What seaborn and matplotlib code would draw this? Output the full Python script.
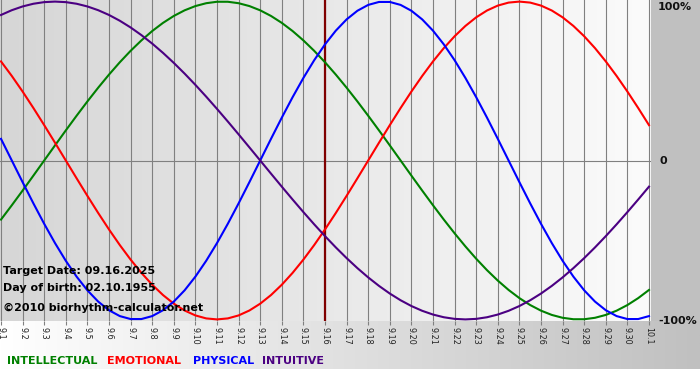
import numpy as np
import pandas as pd
import matplotlib
matplotlib.use("Agg")
import matplotlib.pyplot as plt
from matplotlib.colors import LinearSegmentedColormap
from matplotlib.patches import Rectangle
import seaborn as sns

# ---------------- data ----------------
day_labels = ['9.1', '9.2', '9.3', '9.4', '9.5', '9.6', '9.7', '9.8', '9.9', '9.10',
              '9.11', '9.12', '9.13', '9.14', '9.15', '9.16', '9.17', '9.18', '9.19', '9.20',
              '9.21', '9.22', '9.23', '9.24', '9.25', '9.26', '9.27', '9.28', '9.29', '9.30',
              '10.1']
# values read every half day, from 9.1 to 10.1
intellectual = [-0.3717, -0.2817, -0.1893, -0.0951, 0.0, 0.0951, 0.1893, 0.2817, 0.3717, 0.4582,
                0.5406, 0.6182, 0.6901, 0.7557, 0.8146, 0.8660, 0.9096, 0.9450, 0.9718, 0.9898,
                0.9989, 0.9989, 0.9898, 0.9718, 0.9450, 0.9096, 0.8660, 0.8146, 0.7557, 0.6901,
                0.6182, 0.5406, 0.4582, 0.3717, 0.2817, 0.1893, 0.0951, 0.0, -0.0951, -0.1893,
                -0.2817, -0.3717, -0.4582, -0.5406, -0.6182, -0.6901, -0.7557, -0.8146, -0.8660, -0.9096,
                -0.9450, -0.9718, -0.9898, -0.9989, -0.9989, -0.9898, -0.9718, -0.9450, -0.9096, -0.8660,
                -0.8146]
emotional = [0.6235, 0.5320, 0.4339, 0.3303, 0.2225, 0.1120, 0.0, -0.1120, -0.2225, -0.3303,
             -0.4339, -0.5320, -0.6235, -0.7071, -0.7818, -0.8467, -0.9010, -0.9439, -0.9749, -0.9937,
             -1.0, -0.9937, -0.9749, -0.9439, -0.9010, -0.8467, -0.7818, -0.7071, -0.6235, -0.5320,
             -0.4339, -0.3303, -0.2225, -0.1120, 0.0, 0.1120, 0.2225, 0.3303, 0.4339, 0.5320,
             0.6235, 0.7071, 0.7818, 0.8467, 0.9010, 0.9439, 0.9749, 0.9937, 1.0, 0.9937,
             0.9749, 0.9439, 0.9010, 0.8467, 0.7818, 0.7071, 0.6235, 0.5320, 0.4339, 0.3303,
             0.2225]
physical = [0.1362, 0.0, -0.1362, -0.2698, -0.3984, -0.5196, -0.6311, -0.7308, -0.8170, -0.8879,
            -0.9423, -0.9791, -0.9977, -0.9977, -0.9791, -0.9423, -0.8879, -0.8170, -0.7308, -0.6311,
            -0.5196, -0.3984, -0.2698, -0.1362, 0.0, 0.1362, 0.2698, 0.3984, 0.5196, 0.6311,
            0.7308, 0.8170, 0.8879, 0.9423, 0.9791, 0.9977, 0.9977, 0.9791, 0.9423, 0.8879,
            0.8170, 0.7308, 0.6311, 0.5196, 0.3984, 0.2698, 0.1362, 0.0, -0.1362, -0.2698,
            -0.3984, -0.5196, -0.6311, -0.7308, -0.8170, -0.8879, -0.9423, -0.9791, -0.9977, -0.9977,
            -0.9791]
intuitive = [0.9158, 0.9458, 0.9694, 0.9864, 0.9966, 1.0, 0.9966, 0.9864, 0.9694, 0.9458,
             0.9158, 0.8795, 0.8372, 0.7891, 0.7357, 0.6773, 0.6142, 0.5469, 0.4759, 0.4017,
             0.3247, 0.2455, 0.1646, 0.0826, 0.0, -0.0826, -0.1646, -0.2455, -0.3247, -0.4017,
             -0.4759, -0.5469, -0.6142, -0.6773, -0.7357, -0.7891, -0.8372, -0.8795, -0.9158, -0.9458,
             -0.9694, -0.9864, -0.9966, -1.0, -0.9966, -0.9864, -0.9694, -0.9458, -0.9158, -0.8795,
             -0.8372, -0.7891, -0.7357, -0.6773, -0.6142, -0.5469, -0.4759, -0.4017, -0.3247, -0.2455,
             -0.1646]
series_names = ['INTELLECTUAL', 'EMOTIONAL', 'PHYSICAL', 'INTUITIVE']
series_colors = ['#008000', '#ff0000', '#0000ff', '#4b0082']
target_label = '9.16'
info_lines = ['Target Date: 09.16.2025', 'Day of birth: 02.10.1955', '\u00a92010 biorhythm-calculator.net']
pct_labels = ['100%', '0', '-100%']

# ---------------- figure ----------------
W, H = 700, 380
fig = plt.figure(figsize=(7, 3.8), dpi=100)

# background layer (pixel coordinates)
bg = fig.add_axes([0, 0, 1, 1], zorder=0)
grad = np.linspace(0, 1, 256).reshape(1, -1)
bg.imshow(grad, extent=[0, 651, 321, 0], aspect='auto',
          cmap=LinearSegmentedColormap.from_list('plotbg', ['#d6d6d6', '#fbfbfb']))
bg.imshow(grad, extent=[0, 700, 369, 321], aspect='auto',
          cmap=LinearSegmentedColormap.from_list('bandbg', ['#ffffff', '#c0c0c0']))
bg.add_patch(Rectangle((651, 0), 49, 321, color='#c0c0c0', lw=0))
bg.set_xlim(0, W)
bg.set_ylim(H, 0)
bg.axis('off')

# main chart
ax = fig.add_axes([0, 1 - 321 / H, 651 / W, 321 / H], zorder=1)
ax.patch.set_alpha(0)

n = len(day_labels)
sample_pos = np.arange(len(physical)) / 2.0   # half-day steps along the day axis
df = pd.DataFrame({'day': sample_pos,
                   'INTELLECTUAL': intellectual,
                   'EMOTIONAL': emotional,
                   'PHYSICAL': physical,
                   'INTUITIVE': intuitive})
long = df.melt(id_vars='day', var_name='series', value_name='value')

ax.grid(axis='x', color='#808080', lw=0.8)
ax.set_axisbelow(True)
ax.axhline(0, color='#808080', lw=0.8, zorder=1)
ax.axvline(day_labels.index(target_label), color='#800000', lw=1.6, zorder=1.5)

sns.lineplot(data=long, x='day', y='value', hue='series', hue_order=series_names,
             palette=dict(zip(series_names, series_colors)), legend=False, ax=ax,
             linewidth=1.5, zorder=3)

ax.set_xlim(-1 / 21.6, (n - 1) + 2 / 21.6)
ax.set_ylim(-1.01, 1.01)
ax.set_xticks(np.arange(n))
ax.set_xticklabels(day_labels, rotation=-90, fontsize=5.8, color='#222222')
ax.tick_params(axis='x', length=3, width=0.8, color='#808080', pad=1.5, direction='out')
ax.set_yticks([])
ax.set_xlabel('')
ax.set_ylabel('')
for s in ax.spines.values():
    s.set_visible(False)

# overlay text layer (pixel coordinates)
ov = fig.add_axes([0, 0, 1, 1], zorder=2)
ov.set_xlim(0, W)
ov.set_ylim(H, 0)
ov.axis('off')
ov.patch.set_alpha(0)

for txt, y in zip(info_lines, [271, 288, 308]):
    ov.text(3, y, txt, fontsize=8, fontweight='bold', color='#000000', va='center', ha='left')

for txt, x, y in zip(pct_labels, [658, 660, 658], [7, 161, 321]):
    ov.text(x, y, txt, fontsize=8, fontweight='bold', color='#111111', va='center', ha='left')

for name, col, x in zip(series_names, series_colors, [7, 107, 193, 262]):
    ov.text(x, 361, name, fontsize=8, fontweight='bold', color=col, va='center', ha='left')

fig.savefig('out.png', dpi=100)
